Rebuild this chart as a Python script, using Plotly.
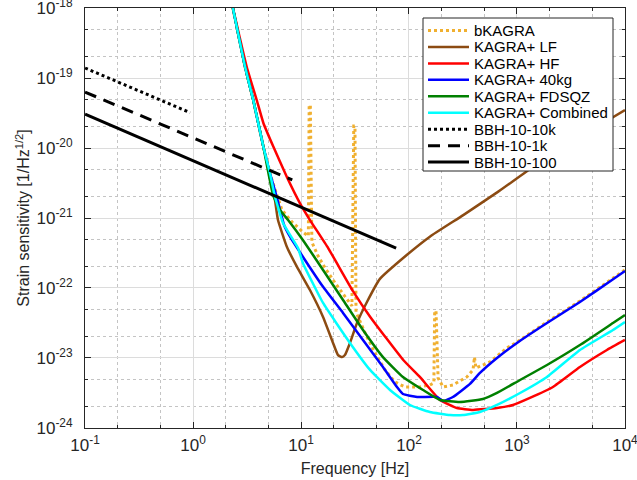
import plotly.graph_objects as go

# ---------------- data ----------------
bkagra_f = [2.34, 3.03, 3.61, 4.48, 5.38, 6.67, 8.26, 10.4, 11.7, 11.9, 12.2, 12.6, 14.4, 16.7,
            20.7, 25.5, 29.6, 30.8, 31.6, 32.3, 39.2, 48.4, 60.0, 74.2, 91.8, 126, 156, 170,
            173, 178, 186, 207, 255, 344, 392, 404, 417, 562, 807, 1000, 1897, 3828, 7586, 10000]
bkagra_h = [1.0e-18, 1.45e-19, 4.85e-20, 1.04e-20, 3.49e-21, 1.30e-21, 8.77e-22, 6.31e-22,
            5.53e-22, 4.11e-20, 4.11e-20, 4.54e-22, 2.86e-22, 1.93e-22, 1.18e-22, 7.69e-23,
            5.53e-23, 2.06e-20, 2.06e-20, 4.54e-23, 2.28e-23, 1.18e-23, 6.75e-24, 4.54e-24,
            3.85e-24, 3.85e-24, 4.11e-24, 4.40e-24, 4.69e-23, 4.69e-23, 5.18e-24, 3.85e-24,
            4.11e-24, 5.36e-24, 6.75e-24, 1.03e-23, 7.19e-24, 8.77e-24, 1.39e-23, 1.69e-23,
            3.27e-23, 6.52e-23, 1.35e-22, 1.81e-22]

lf_f = [2.34, 3.03, 3.61, 4.48, 5.16, 5.74, 6.12, 7.41, 9.18, 12.1, 16.0, 19.8, 22.0, 24.0,
        25.5, 28.4, 33.0, 40.8, 53.8, 95.3, 156, 318, 671, 1406, 2844, 5875, 10000]
lf_h = [1.0e-18, 1.45e-19, 4.85e-20, 1.04e-20, 4.11e-21, 1.81e-21, 9.35e-22, 3.85e-22,
        2.00e-22, 9.35e-23, 3.85e-23, 1.64e-23, 1.10e-23, 1.03e-23, 1.10e-23, 1.64e-23,
        3.16e-23, 6.31e-23, 1.35e-22, 2.96e-22, 5.41e-22, 1.10e-21, 2.38e-21,
        5.36e-21, 1.07e-20, 2.13e-20, 3.49e-20]

hf_f = [2.34, 3.14, 3.89, 4.48, 5.55, 7.38, 9.79, 12.1, 17.9, 30.5, 43.6, 88.5, 126, 194,
        278, 392, 653, 918, 1318, 2153, 3828, 6808, 10000]
hf_h = [1.0e-18, 1.45e-19, 4.85e-20, 2.28e-20, 1.04e-20, 3.89e-21, 1.62e-21, 9.35e-22,
        3.69e-22, 8.85e-23, 3.89e-23, 9.35e-24, 5.36e-24, 2.51e-24, 1.93e-24, 1.81e-24,
        1.93e-24, 2.13e-24, 2.69e-24, 3.85e-24, 7.43e-24, 1.30e-23, 1.81e-23]

kg40_f = [2.34, 3.03, 3.61, 4.48, 5.16, 6.00, 6.97, 7.91, 10.4, 16.0, 24.5, 37.5, 57.4, 77.4,
          87.9, 119, 182, 207, 255, 367, 454, 653, 1000, 1897, 3828, 7586, 10000]
kg40_h = [1.0e-18, 1.45e-19, 4.85e-20, 1.04e-20, 4.36e-21, 1.93e-21, 7.94e-22, 5.41e-22,
          2.80e-22, 1.04e-22, 4.40e-23, 1.81e-23, 7.43e-24, 3.85e-24, 3.06e-24, 2.77e-24,
          2.77e-24, 2.43e-24, 2.77e-24, 4.26e-24, 6.11e-24, 1.0e-23, 1.64e-23, 3.16e-23,
          6.31e-23, 1.30e-22, 1.75e-22]

fdsqz_f = [2.34, 3.03, 3.61, 4.48, 5.51, 6.40, 7.59, 10.4, 16.0, 24.5, 37.5, 57.4, 87.9, 135,
           194, 296, 484, 653, 1067, 1897, 3828, 7745, 10000]
fdsqz_h = [1.0e-18, 1.45e-19, 4.85e-20, 1.04e-20, 2.13e-21, 1.30e-21, 9.35e-22, 4.85e-22,
           1.81e-22, 6.75e-23, 2.51e-23, 1.03e-23, 5.36e-24, 3.49e-24, 2.51e-24, 2.35e-24,
           2.59e-24, 3.16e-24, 4.85e-24, 7.94e-24, 1.53e-23, 3.16e-23, 4.11e-23]

comb_f = [2.34, 3.03, 3.61, 4.48, 5.16, 5.74, 6.81, 9.38, 10.4, 16.0, 28.4, 43.6, 66.7, 102,
          156, 240, 316, 454, 653, 1067, 1897, 3828, 7745, 10000]
comb_h = [1.0e-18, 1.45e-19, 4.85e-20, 1.04e-20, 4.36e-21, 2.01e-21, 8.49e-22, 3.72e-22,
          2.28e-22, 6.11e-23, 1.64e-23, 6.75e-24, 3.49e-24, 2.13e-24, 1.69e-24, 1.53e-24,
          1.53e-24, 1.69e-24, 2.13e-24, 3.16e-24, 5.36e-24, 1.30e-23, 2.51e-23, 3.27e-23]

bbh10k_f = [0.1, 0.94]
bbh10k_h = [1.39e-19, 3.2e-20]
bbh1k_f = [0.1, 8.3]
bbh1k_h = [6.3e-20, 3.5e-21]
bbh100_f = [0.1, 76]
bbh100_h = [3.06e-20, 3.7e-22]

x_tickvals = [0.1, 1, 10, 100, 1000, 10000]
x_ticktext = ["10<sup>-1</sup>", "10<sup>0</sup>", "10<sup>1</sup>", "10<sup>2</sup>",
              "10<sup>3</sup>", "10<sup>4</sup>"]
y_tickvals = [1e-24, 1e-23, 1e-22, 1e-21, 1e-20, 1e-19, 1e-18]
y_ticktext = ["10<sup>-24</sup>", "10<sup>-23</sup>", "10<sup>-22</sup>", "10<sup>-21</sup>",
              "10<sup>-20</sup>", "10<sup>-19</sup>", "10<sup>-18</sup>"]

# ---------------- figure ----------------
FONT = "Liberation Sans, Arial, sans-serif"
# name, f, h, colour, width, dash, shape
series = [
    ("bKAGRA", bkagra_f, bkagra_h, "#F0B030", 3, "dot", "linear"),
    ("KAGRA+ LF", lf_f, lf_h, "#8C4B12", 2.5, "solid", "spline"),
    ("KAGRA+ HF", hf_f, hf_h, "#FF0000", 2.5, "solid", "spline"),
    ("KAGRA+ 40kg", kg40_f, kg40_h, "#0000FF", 2.5, "solid", "spline"),
    ("KAGRA+ FDSQZ", fdsqz_f, fdsqz_h, "#008000", 2.5, "solid", "spline"),
    ("KAGRA+ Combined", comb_f, comb_h, "#00FFFF", 2.5, "solid", "spline"),
    ("BBH-10-10k", bbh10k_f, bbh10k_h, "#000000", 3, "dot", "linear"),
    ("BBH-10-1k", bbh1k_f, bbh1k_h, "#000000", 3, "12px,8px", "linear"),
    ("BBH-10-100", bbh100_f, bbh100_h, "#000000", 3, "solid", "linear"),
]

fig = go.Figure()
for name, fx, hy, col, w, dash, shp in series:
    line = dict(color=col, width=w, dash=dash, shape=shp)
    if shp == "spline":
        line["smoothing"] = 0.4
    fig.add_trace(go.Scatter(x=fx, y=hy, mode="lines", name=name, line=line,
                             showlegend=False))

axis_common = dict(
    type="log", showline=True, linecolor="#262626", linewidth=1, mirror="allticks",
    ticks="inside", ticklen=6, tickcolor="#262626", automargin=False,
    ticklabeloverflow="allow",
    showgrid=True, gridcolor="#DCDCDC", gridwidth=1, zeroline=False,
    tickfont=dict(family=FONT, size=17, color="#262626"),
    minor=dict(ticks="inside", ticklen=3, tickcolor="#262626", showgrid=True,
               gridcolor="#C4C4C4", griddash="dot", gridwidth=1),
)

fig.update_xaxes(**axis_common, range=[-1.0005, 4.0005], tickvals=x_tickvals,
                 ticktext=x_ticktext, ticklabelstandoff=2,
                 title=dict(text="Frequency [Hz]", standoff=8,
                            font=dict(family=FONT, size=16, color="#262626")))
fig.update_yaxes(**axis_common, range=[-24.0005, -17.9995], tickvals=y_tickvals,
                 ticktext=y_ticktext, ticklabelstandoff=8,
                 title=dict(text="Strain sensitivity [1/Hz<sup>1/2</sup>]", standoff=2,
                            font=dict(family=FONT, size=16, color="#262626")))

# ---------------- legend drawn in paper coordinates ----------------
L, R, T, B = 85, 625, 8, 428           # plot-area pixel edges
def px(x):
    return (x - L) / (R - L)
def py(y):
    return (B - y) / (B - T)

shapes = [dict(type="rect", xref="paper", yref="paper", x0=px(423), x1=px(613),
               y0=py(171), y1=py(18), fillcolor="white",
               line=dict(color="#262626", width=1), layer="above")]
annotations = []
for i, (name, fx, hy, col, w, dash, shp) in enumerate(series):
    yc = 30.5 + 16.45 * i
    shapes.append(dict(type="line", xref="paper", yref="paper", x0=px(428), x1=px(469),
                       y0=py(yc), y1=py(yc), layer="above",
                       line=dict(color=col, width=w, dash=dash)))
    annotations.append(dict(xref="paper", yref="paper", x=px(472), y=py(yc), text=name,
                            showarrow=False, xanchor="left", yanchor="middle",
                            font=dict(family=FONT, size=15, color="#000000")))

fig.update_layout(
    width=637, height=480,
    margin=dict(l=85, r=12, t=8, b=52),
    plot_bgcolor="white", paper_bgcolor="white",
    font=dict(family=FONT, color="#000000"),
    shapes=shapes, annotations=annotations,
    showlegend=False,
)

fig.write_html("out.html", config={"displayModeBar": False},
               post_script="document.body.style.margin='0';")
